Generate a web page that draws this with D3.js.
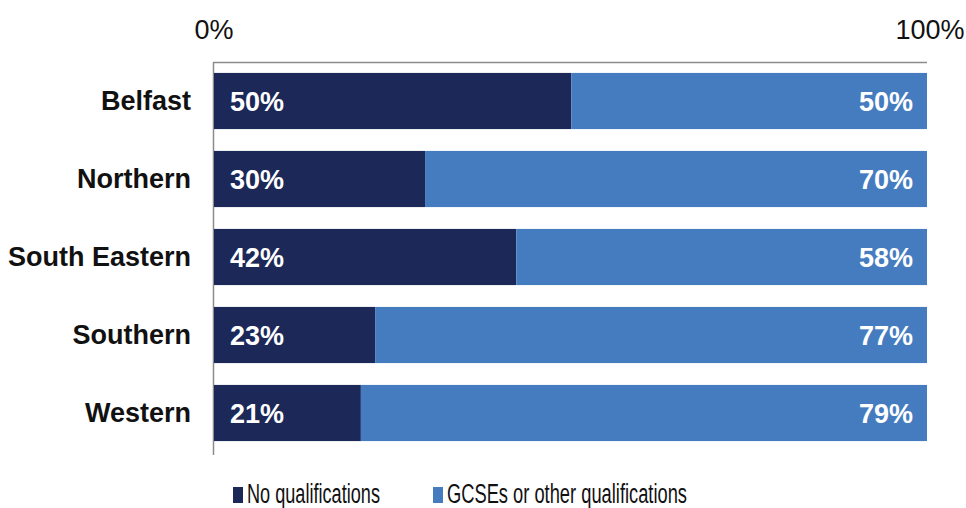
<!DOCTYPE html>
<html>
<head>
<meta charset="utf-8">
<script src="https://cdn.jsdelivr.net/npm/d3@7"></script>
<style>
  body { margin: 0; background: #fff; }
  text { font-family: "Liberation Sans", Arial, sans-serif; }
</style>
</head>
<body>
<script>
const regions = ["Belfast", "Northern", "South Eastern", "Southern", "Western"];
const noQual = [50.1, 29.6, 42.4, 22.6, 20.6];
const gcse = [49.9, 70.4, 57.6, 77.4, 79.4];
const seriesNames = ["No qualifications", "GCSEs or other qualifications"];
const seriesColors = ["#1b2858", "#457cc0"];
const tickValues = [0, 100];

function createGraph() {
    let width = 966,
        height = 508;

    const svg = d3.select("body")
        .append("svg")
        .attr("width", width)
        .attr("height", height);

    const xScale = d3.scaleLinear()
        .domain([0, 100])
        .range([214, 927]);

    const yScale = d3.scaleBand()
        .domain(regions)
        .range([62, 452])
        .paddingInner(0.28)
        .paddingOuter(0.14);

    // top axis line and labels
    svg.append("line")
        .attr("x1", xScale(0) - 1).attr("x2", xScale(100))
        .attr("y1", 62.5).attr("y2", 62.5)
        .attr("stroke", "#8c8c8c").attr("stroke-width", 1.5);

    svg.selectAll(".tick-label")
        .data(tickValues)
        .enter()
        .append("text")
        .attr("x", d => xScale(d) + (d === 100 ? 3 : 0))
        .attr("y", 39)
        .attr("text-anchor", "middle")
        .attr("font-size", 27)
        .attr("fill", "#111")
        .text(d => d + "%");

    // left axis line
    svg.append("line")
        .attr("x1", 213.5).attr("x2", 213.5)
        .attr("y1", 62).attr("y2", 455)
        .attr("stroke", "#8c8c8c").attr("stroke-width", 1.5);

    // bars
    const rows = svg.selectAll(".row")
        .data(regions)
        .enter()
        .append("g");

    rows.append("rect")
        .attr("x", xScale(0))
        .attr("y", d => yScale(d))
        .attr("width", (d, i) => xScale(noQual[i]) - xScale(0))
        .attr("height", yScale.bandwidth())
        .attr("fill", seriesColors[0]);

    rows.append("rect")
        .attr("x", (d, i) => xScale(noQual[i]))
        .attr("y", d => yScale(d))
        .attr("width", (d, i) => xScale(noQual[i] + gcse[i]) - xScale(noQual[i]))
        .attr("height", yScale.bandwidth())
        .attr("fill", seriesColors[1]);

    rows.append("text")
        .attr("x", xScale(0) + 16)
        .attr("y", d => yScale(d) + yScale.bandwidth() / 2 + 10)
        .attr("font-size", 27)
        .attr("font-weight", "bold")
        .attr("fill", "#fff")
        .text((d, i) => Math.round(noQual[i]) + "%");

    rows.append("text")
        .attr("x", xScale(100) - 14)
        .attr("y", d => yScale(d) + yScale.bandwidth() / 2 + 10)
        .attr("text-anchor", "end")
        .attr("font-size", 27)
        .attr("font-weight", "bold")
        .attr("fill", "#fff")
        .text((d, i) => Math.round(gcse[i]) + "%");

    // category labels
    rows.append("text")
        .attr("x", 191)
        .attr("y", d => yScale(d) + yScale.bandwidth() / 2 + 9)
        .attr("text-anchor", "end")
        .attr("font-size", 27)
        .attr("font-weight", "bold")
        .attr("fill", "#111")
        .text(d => d);

    // legend
    const legendX = [233, 433];
    const legendW = [133, 240];
    const legend = svg.selectAll(".legend")
        .data(seriesNames)
        .enter()
        .append("g");

    legend.append("rect")
        .attr("x", (d, i) => legendX[i])
        .attr("y", 487)
        .attr("width", 10)
        .attr("height", 16)
        .attr("fill", (d, i) => seriesColors[i]);

    legend.append("text")
        .attr("x", (d, i) => legendX[i] + 14)
        .attr("y", 503)
        .attr("font-size", 27)
        .attr("fill", "#111")
        .attr("textLength", (d, i) => legendW[i])
        .attr("lengthAdjust", "spacingAndGlyphs")
        .text(d => d);
}

document.addEventListener('DOMContentLoaded', function (e) {
    createGraph();
});
</script>
</body>
</html>
